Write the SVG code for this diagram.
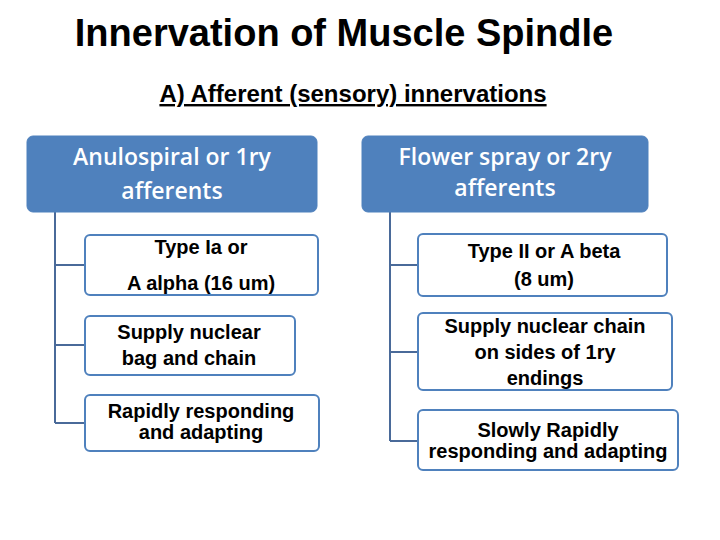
<svg xmlns="http://www.w3.org/2000/svg" width="720" height="540" viewBox="0 0 720 540">
<style>
.t{font-family:"Liberation Sans",Arial,sans-serif;fill:#000;font-weight:bold}
.h{fill:#4F81BD;stroke:#4F81BD}
.hl{font-family:"Open Sans","Liberation Sans",sans-serif;font-size:23px;fill:#fff;text-anchor:middle;font-weight:600}
.c{fill:#fff;stroke:#4F81BD;stroke-width:2}
.ct{font-family:"Liberation Sans",Arial,sans-serif;fill:#000;text-anchor:middle;font-size:20px;font-weight:bold}
.ln{stroke:#4A6A99;stroke-width:2;fill:none}
</style>
<rect width="720" height="540" fill="#fff"/>
<text class="t" x="344" y="46" font-size="38" text-anchor="middle">Innervation of Muscle Spindle</text>
<text class="t" x="353" y="102" font-size="24" text-anchor="middle" text-decoration="underline">A) Afferent (sensory) innervations</text>
<g id="connectors">
<path class="ln" d="M55 212V423M55 265H85M55 345H85M55 423H85"/>
<path class="ln" d="M390 212V441M390 265H418M390 352H418M390 441H418"/>
</g>
<g id="h1"><rect class="h" x="27" y="136" width="290" height="76" rx="6"/>
<text class="hl" x="172" y="165">Anulospiral or 1ry</text><text class="hl" x="172" y="199">afferents</text></g>
<g id="h2"><rect class="h" x="362" y="136" width="286" height="76" rx="6"/>
<text class="hl" x="505" y="165">Flower spray or 2ry</text><text class="hl" x="505" y="196">afferents</text></g>
<g id="l1"><rect class="c" x="85" y="235" width="233" height="60" rx="5"/>
<text class="ct" x="201" y="254">Type Ia or</text><text class="ct" x="201" y="290">A alpha (16 um)</text></g>
<g id="l2"><rect class="c" x="85" y="316" width="210" height="59" rx="5"/>
<text class="ct" x="189" y="339">Supply nuclear</text><text class="ct" x="189" y="365">bag and chain</text></g>
<g id="l3"><rect class="c" x="85" y="395" width="234" height="56" rx="5"/>
<text class="ct" x="201" y="418" font-size="18">Rapidly responding</text><text class="ct" x="201" y="439" font-size="18">and adapting</text></g>
<g id="r1"><rect class="c" x="418" y="234" width="249" height="62" rx="5"/>
<text class="ct" x="544" y="258">Type II or A beta</text><text class="ct" x="544" y="286">(8 um)</text></g>
<g id="r2"><rect class="c" x="418" y="313" width="254" height="77" rx="5"/>
<text class="ct" x="545" y="333">Supply nuclear chain</text><text class="ct" x="545" y="359">on sides of 1ry</text><text class="ct" x="545" y="385">endings</text></g>
<g id="r3"><rect class="c" x="418" y="410" width="260" height="60" rx="5"/>
<text class="ct" x="548" y="437" font-size="18">Slowly Rapidly</text><text class="ct" x="548" y="458" font-size="18">responding and adapting</text></g>
</svg>
